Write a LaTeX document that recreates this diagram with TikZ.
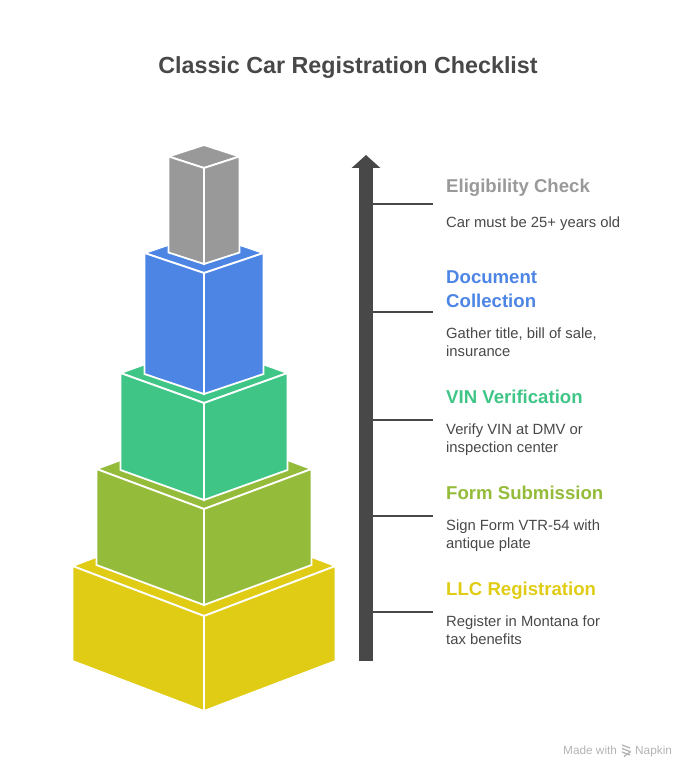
\documentclass[tikz,border=0pt]{standalone}
\usepackage{xcolor}
\usepackage{fontspec}
\setmainfont{Liberation Sans}
\usetikzlibrary{arrows.meta}
\definecolor{inkgray}{HTML}{484848}
\definecolor{footgray}{HTML}{B4B4B4}
\definecolor{stepgray}{HTML}{999999}
\definecolor{stepblue}{HTML}{4D85E5}
\definecolor{stepgreen}{HTML}{3FC586}
\definecolor{stepolive}{HTML}{94BB3A}
\definecolor{stepyellow}{HTML}{E0CC14}
\tikzstyle{title} = [anchor=base, inner sep=0pt, text=inkgray, font=\fontsize{23.3}{28}\selectfont\bfseries]
\tikzstyle{head} = [anchor=base west, inner sep=0pt, align=left, font=\fontsize{18.6}{24}\selectfont\bfseries]
\tikzstyle{body} = [anchor=base west, inner sep=0pt, align=left, text=inkgray, font=\fontsize{14.8}{18}\selectfont]
\tikzstyle{foot} = [anchor=base west, inner sep=0pt, text=footgray, font=\fontsize{11.8}{14}\selectfont]
\tikzstyle{face} = [draw=white, line width=1.8pt, line join=miter]
\tikzstyle{axis} = [draw=inkgray, line width=14pt, -{Triangle[width=28pt,length=13pt]}]
\tikzstyle{leader} = [draw=inkgray, line width=1.4pt]

\begin{document}
\begin{tikzpicture}[x=1pt, y=-1pt]
\useasboundingbox (0,0) rectangle (696,778);
\node (title) [title] at (348,74) {Classic Car Registration Checklist};

\foreach \col/\hw/\dy/\ytop/\ybot in {stepyellow/131.5/50/616/711, stepolive/107.5/40/509/605, stepgreen/83.5/30/403/500, stepblue/59.5/20/273/394, stepgray/35.5/11.5/168/264} {
  \fill[\col, face] (204,\ytop) -- ++(-\hw,-\dy) -- ++(\hw,-\dy) -- ++(\hw,\dy) -- cycle;
  \fill[\col, face] (204,\ytop) -- ++(-\hw,-\dy) -- (204-\hw,\ybot-\dy) -- (204,\ybot) -- cycle;
  \fill[\col, face] (204,\ytop) -- ++(\hw,-\dy) -- (204+\hw,\ybot-\dy) -- (204,\ybot) -- cycle;
}

\coordinate (axis_base) at (366,661);
\coordinate (axis_tip) at (366,155);
\draw[axis] (axis_base) -- (axis_tip);

\node (eligibility_head) [head, text=stepgray] at (446,193) {Eligibility Check};
\node (eligibility_body) [body] at (446,227) {Car must be 25+ years old};
\node (document_head) [head, text=stepblue] at (446,307) {Document\\Collection};
\node (document_body) [body] at (446,356) {Gather title, bill of sale,\\insurance};
\node (vin_head) [head, text=stepgreen] at (446,403) {VIN Verification};
\node (vin_body) [body] at (446,452) {Verify VIN at DMV or\\inspection center};
\node (form_head) [head, text=stepolive] at (446,499) {Form Submission};
\node (form_body) [body] at (446,548) {Sign Form VTR-54 with\\antique plate};
\node (llc_head) [head, text=stepyellow] at (446,595) {LLC Registration};
\node (llc_body) [body] at (446,644) {Register in Montana for\\tax benefits};

\foreach \name/\yy in {eligibility/204, document/312, vin/420, form/516, llc/612} {
  \coordinate (\name_start) at (373,\yy);
  \coordinate (\name_end) at (433,\yy);
  \draw[leader] (\name_start) -- (\name_end);
}

\node (foot_made) [foot] at (563,754) {Made with};
\node (foot_napkin) [foot] at (635,754) {Napkin};
\foreach \yy in {745,748.5,752} {
  \draw[footgray, line width=1.3pt] (622,\yy) -- (630,\yy+3);
}
\draw[footgray, line width=1.3pt] (631,751.5) -- (624,756.5);
\end{tikzpicture}
\end{document}
